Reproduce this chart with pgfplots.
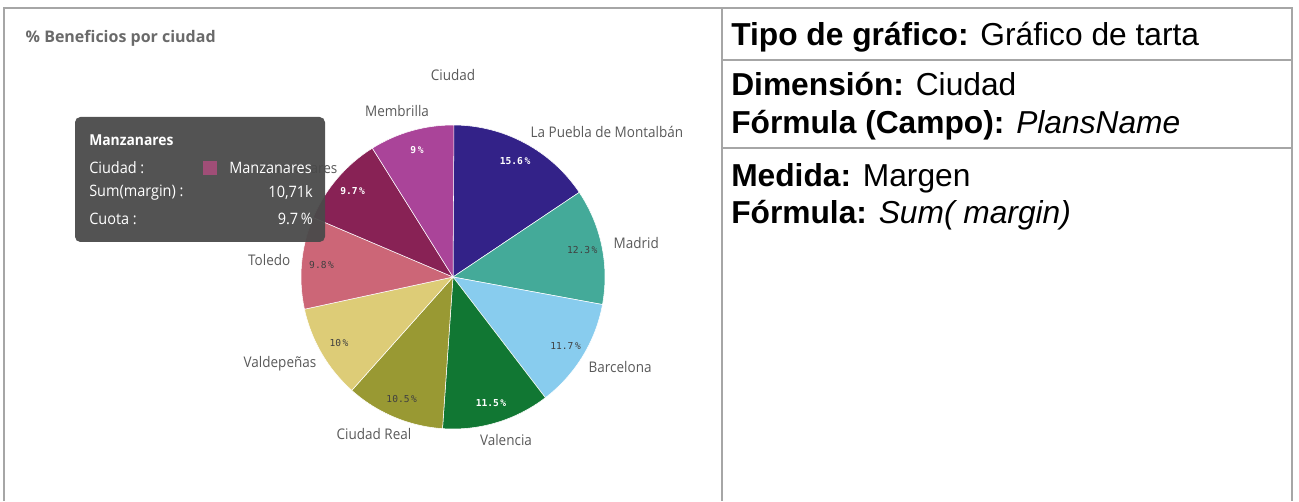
\documentclass[border=0pt]{standalone}
\usepackage{fontspec}
\usepackage{pgfplots}
\usepackage{pgfplotstable}
\pgfplotsset{compat=1.18}
\setmainfont{Liberation Sans}
\newfontfamily\qlik[FakeStretch=0.92]{Open Sans}
\newfontfamily\qlikhead{Open Sans}
\newfontfamily\qlikmono{DejaVu Sans Mono}

\definecolor{cPuebla}{HTML}{332288}
\definecolor{cMadrid}{HTML}{44AA99}
\definecolor{cBarcelona}{HTML}{88CCEE}
\definecolor{cValencia}{HTML}{117733}
\definecolor{cCiudadReal}{HTML}{999933}
\definecolor{cValdepenas}{HTML}{DDCC77}
\definecolor{cToledo}{HTML}{CC6677}
\definecolor{cManzanares}{HTML}{882255}
\definecolor{cMembrilla}{HTML}{AA4499}
\definecolor{qgray}{HTML}{595959}
\definecolor{tipbg}{HTML}{4A4A4A}
\definecolor{pctdark}{HTML}{404040}
\definecolor{rule}{HTML}{A6A6A6}

% share of margin per city, clockwise from 12 o'clock
\pgfplotstableread[col sep=comma]{
ciudad,pct,col,txt,wt
La Puebla de Montalbán,15.6,cPuebla,white,\bfseries
Madrid,12.3,cMadrid,pctdark,
Barcelona,11.7,cBarcelona,pctdark,
Valencia,11.5,cValencia,white,\bfseries
Ciudad Real,10.5,cCiudadReal,pctdark,
Valdepeñas,10,cValdepenas,pctdark,
Toledo,9.8,cToledo,pctdark,
Manzanares,9.7,cManzanares,white,\bfseries
Membrilla,9,cMembrilla,white,\bfseries
}\piedata

\begin{document}
\begin{tikzpicture}
\begin{axis}[
  x=0.75pt, y=0.75pt,
  xmin=0, xmax=1299, ymin=0, ymax=501,
  y dir=reverse,
  hide axis, clip=false,
]
% page frame
\path (axis cs:0,0) rectangle (axis cs:1299,501);
\draw[rule, line width=1.1pt] (axis cs:4,501) -- (axis cs:4,8) -- (axis cs:1292,8) -- (axis cs:1292,501);
\draw[rule, line width=1.1pt] (axis cs:722,8) -- (axis cs:722,501);
\draw[rule, line width=1.1pt] (axis cs:722,60) -- (axis cs:1292,60);
\draw[rule, line width=1.1pt] (axis cs:722,148) -- (axis cs:1292,148);

% pie slices from the table
\pgfplotsextra{
  \pgfplotstablegetrowsof{\piedata}
  \pgfmathtruncatemacro\lastrow{\pgfplotsretval-1}
  \gdef\cumpct{0}
  \foreach \i in {0,...,\lastrow}{
    \pgfplotstablegetelem{\i}{pct}\of\piedata \edef\slicepct{\pgfplotsretval}
    \pgfplotstablegetelem{\i}{col}\of\piedata \edef\slicecol{\pgfplotsretval}
    \pgfplotstablegetelem{\i}{txt}\of\piedata \edef\slicetxt{\pgfplotsretval}
    \pgfplotstablegetelem{\i}{wt}\of\piedata \let\slicewt\pgfplotsretval
    \pgfmathsetmacro\angA{90-3.6*\cumpct}
    \pgfmathsetmacro\angB{90-3.6*(\cumpct+\slicepct)}
    \pgfmathsetmacro\angM{(\angA+\angB)/2}
    \fill[fill=\slicecol, draw=white, line width=0.4pt]
      (axis cs:453,277) -- ++(\angA:114pt)
      arc[start angle=\angA, end angle=\angB, radius=114pt] -- cycle;
    \path (axis cs:453,277) ++(\angM:99pt)
      node[text=\slicetxt, font=\qlikmono\slicewt\fontsize{7.2}{9}\selectfont] {\slicepct\,\%};
    \pgfmathsetmacro\newcum{\cumpct+\slicepct}
    \global\let\cumpct\newcum
  }
}

% titles and category labels
\node[anchor=west, text=qgray!90, font=\qlikhead\bfseries\fontsize{12}{14}\selectfont] at (axis cs:21,38) {\% Beneficios por ciudad};
\begin{scope}[every node/.style={text=qgray, font=\qlik\fontsize{11}{13}\selectfont}]
\node at (axis cs:453,75) {Ciudad};
\node at (axis cs:397,111) {Membrilla};
\node[anchor=west] at (axis cs:526,132) {La Puebla de Montalbán};
\node[anchor=west] at (axis cs:609,243) {Madrid};
\node[anchor=west] at (axis cs:584,367) {Barcelona};
\node at (axis cs:506,440) {Valencia};
\node at (axis cs:374,434) {Ciudad Real};
\node[anchor=east] at (axis cs:321,364) {Valdepeñas};
\node[anchor=east] at (axis cs:295,260) {Toledo};
\node[anchor=east] at (axis cs:342,168) {Manzanares};
\end{scope}

% tooltip
\fill[tipbg, opacity=0.95, rounded corners=4pt] (axis cs:75,117) rectangle (axis cs:325,242);
\begin{scope}[every node/.style={text=white, inner sep=0pt, font=\qlik\fontsize{11.8}{14}\selectfont}]
\node[anchor=west, font=\qlik\bfseries\fontsize{11.3}{14}\selectfont] at (axis cs:89,140) {Manzanares};
\node[anchor=west] at (axis cs:89,168) {Ciudad :};
\node[anchor=west] at (axis cs:229,168) {Manzanares};
\node[anchor=west] at (axis cs:89,193) {Sum(margin) :};
\node[anchor=east] at (axis cs:313,193) {10,71k};
\node[anchor=west] at (axis cs:89,219) {Cuota :};
\node[anchor=east] at (axis cs:313,219) {9.7\,\%};
\end{scope}
\fill[cManzanares!80!white] (axis cs:203,161) rectangle (axis cs:217,175);

% description table
\begin{scope}[every node/.style={anchor=base west, inner sep=0pt, font=\fontsize{23.8}{28}\selectfont}]
\node at (axis cs:731,46) {\textbf{Tipo de gráfico:} Gráfico de tarta};
\node at (axis cs:731,96) {\textbf{Dimensión:} Ciudad};
\node at (axis cs:731,134) {\textbf{Fórmula (Campo):} \textit{PlansName}};
\node at (axis cs:731,187) {\textbf{Medida:} Margen};
\node at (axis cs:731,224) {\textbf{Fórmula:} \textit{Sum( margin)}};
\end{scope}
\end{axis}
\end{tikzpicture}
\end{document}
